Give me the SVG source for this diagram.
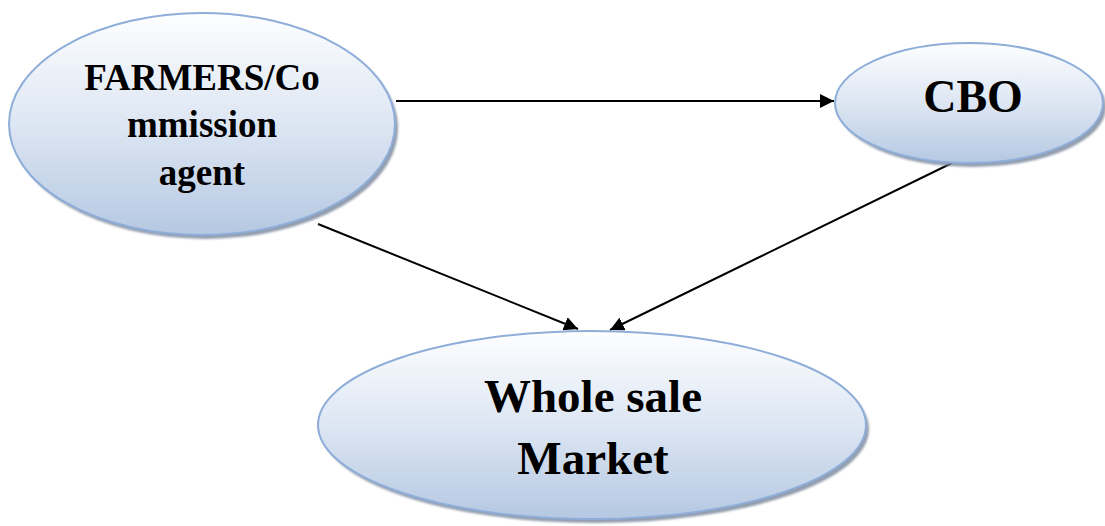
<svg xmlns="http://www.w3.org/2000/svg" width="1105" height="526" viewBox="0 0 1105 526">
<style>
.node{fill:url(#g);stroke:#8eaed9;stroke-width:2}
.shadow{fill:#7f8ca0;opacity:0.85}
.t{font-family:"Liberation Serif","Times New Roman",serif;font-weight:bold;fill:#000;text-anchor:middle}
</style>
<defs>
<linearGradient id="g" x1="0" y1="0" x2="0" y2="1">
<stop offset="0" stop-color="#fdfeff"/>
<stop offset="0.5" stop-color="#dde6f3"/>
<stop offset="1" stop-color="#b5c8e2"/>
</linearGradient>
<filter id="blur" x="-10%" y="-10%" width="120%" height="120%"><feGaussianBlur stdDeviation="1.2"/></filter>
<marker id="ah2" viewBox="0 0 10 10" refX="10" refY="5" markerWidth="14" markerHeight="14" markerUnits="userSpaceOnUse" orient="auto">
<path d="M0,0 L10,5 L0,10 z" fill="#000"/>
</marker>
</defs>
<g id="connectors">
<line x1="396" y1="101" x2="834" y2="101" stroke="#000" stroke-width="2" marker-end="url(#ah2)"/>
<line x1="318" y1="224" x2="578" y2="329" stroke="#000" stroke-width="2" marker-end="url(#ah2)"/>
<line x1="952" y1="163" x2="610" y2="330" stroke="#000" stroke-width="2" marker-end="url(#ah2)"/>
</g>
<g id="farmers">
<ellipse class="shadow" cx="205" cy="128" rx="193" ry="111" filter="url(#blur)"/>
<ellipse class="node" cx="202" cy="124" rx="193" ry="111"/>
<text class="t" font-size="37" x="202" y="90">FARMERS/Co</text>
<text class="t" font-size="37" x="202" y="137">mmission</text>
<text class="t" font-size="37" x="202" y="185">agent</text>
</g>
<g id="cbo">
<ellipse class="shadow" cx="972" cy="107" rx="134" ry="60" filter="url(#blur)"/>
<ellipse class="node" cx="969" cy="103" rx="134" ry="60"/>
<text class="t" font-size="46" x="973" y="112">CBO</text>
</g>
<g id="market">
<ellipse class="shadow" cx="595" cy="429" rx="274" ry="94" filter="url(#blur)"/>
<ellipse class="node" cx="592" cy="425" rx="274" ry="94"/>
<text class="t" font-size="47" x="593" y="412">Whole sale</text>
<text class="t" font-size="47" x="593" y="474">Market</text>
</g>
</svg>
